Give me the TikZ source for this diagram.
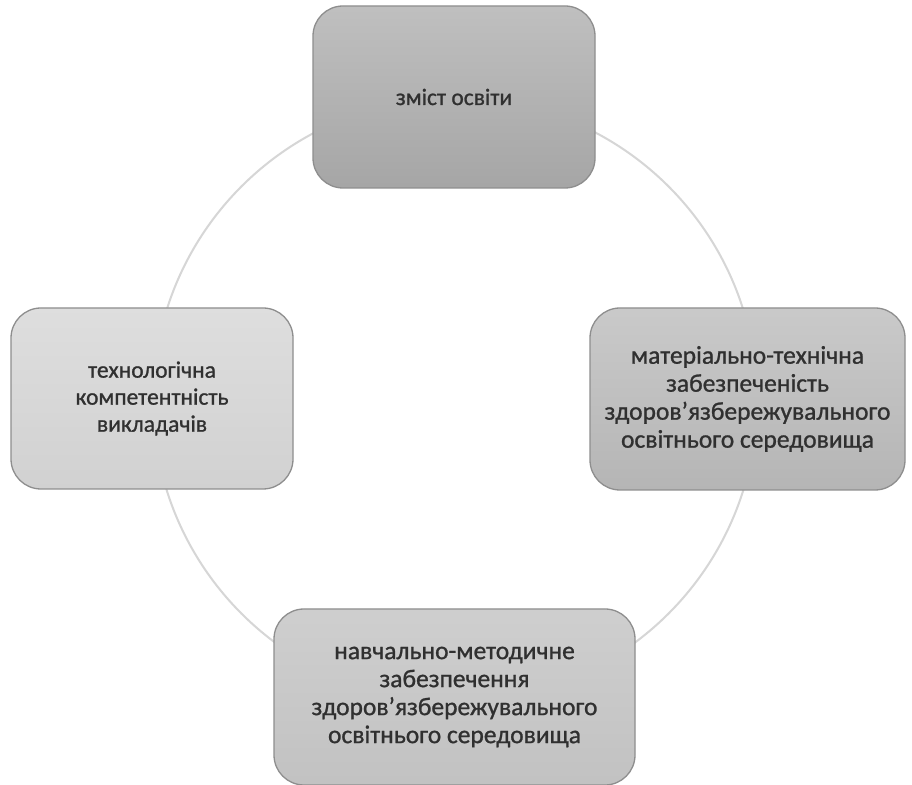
\documentclass[tikz,border=0pt]{standalone}
\usepackage{fontspec}
\setmainfont{Carlito}
\newfontfamily\boxfont{Carlito}[FakeBold=1.0]
\definecolor{ringgray}{HTML}{D6D6D6}
\definecolor{edgegray}{HTML}{8E8E8E}
\definecolor{textgray}{HTML}{303030}
\tikzset{
  boxnode/.style={draw=edgegray, line width=1.3pt, rounded corners=30pt,
    align=center, text=textgray, inner sep=0pt,
    font=\boxfont\fontsize{25.5}{28}\selectfont},
  smalltext/.style={font=\boxfont\fontsize{23.5}{27}\selectfont},
  ring/.style={draw=ringgray, line width=2pt}
}
\begin{document}
\begin{tikzpicture}[x=1pt,y=1pt]
  \useasboundingbox (0,0) rectangle (912,784);
  \fill[white] (0,0) rectangle (912,784);
  % the ring linking the four factors
  \coordinate (hub) at (455,384);
  \draw[ring] (hub) circle (302);
  % the four factors
  \node[boxnode, smalltext, minimum width=282pt, minimum height=182pt,
        top color=black!25, bottom color=black!35] (content) at (454,687) {зміст освіти};
  \node[boxnode, smalltext, minimum width=282pt, minimum height=181pt,
        top color=black!13, bottom color=black!18] (staff) at (152,385.5)
        {технологічна\\компетентність\\викладачів};
  \node[boxnode, minimum width=315pt, minimum height=182pt,
        top color=black!21, bottom color=black!29] (material) at (747.5,385)
        {матеріально-технічна\\забезпеченість\\здоров’язбережувального\\освітнього середовища};
  \node[boxnode, minimum width=361pt, minimum height=176pt,
        top color=black!19, bottom color=black!24] (method) at (454.5,87)
        {навчально-методичне\\забезпечення\\здоров’язбережувального\\освітнього середовища};
\end{tikzpicture}
\end{document}
